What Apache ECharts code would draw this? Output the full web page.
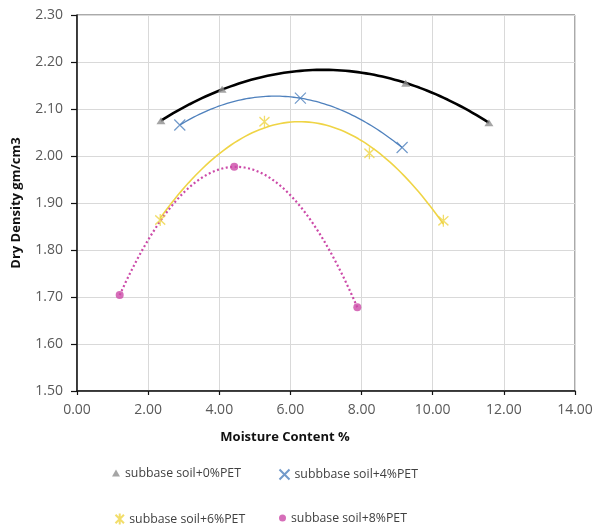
<!DOCTYPE html>
<html>
<head>
<meta charset="utf-8">
<script src="https://cdn.jsdelivr.net/npm/echarts@6/dist/echarts.min.js"></script>
<style>html,body{margin:0;padding:0;background:#fff}#c{width:597px;height:527px}</style>
</head>
<body>
<div id="c"></div>
<script>
// ---- data ----
const seriesNames = ['subbase soil+0%PET', 'subbbase soil+4%PET', 'subbase soil+6%PET', 'subbase soil+8%PET'];
const moisture0 = [2.36, 4.08, 9.24, 11.58];
const density0  = [2.075, 2.142, 2.155, 2.071];
const moisture4 = [2.89, 6.28, 9.14];
const density4  = [2.066, 2.123, 2.018];
const moisture6 = [2.34, 5.27, 8.22, 10.30];
const density6  = [1.864, 2.073, 2.006, 1.862];
const moisture8 = [1.20, 4.42, 7.88];
const density8  = [1.704, 1.977, 1.678];
const xTicks = [0, 2, 4, 6, 8, 10, 12, 14];
const yTicks = [1.5, 1.6, 1.7, 1.8, 1.9, 2.0, 2.1, 2.2, 2.3];

// ---- 2nd order polynomial trendline (least squares), like the spreadsheet trendline ----
function polyFit2(xs, ys) {
  let n = xs.length, s1=0,s2=0,s3=0,s4=0,t0=0,t1=0,t2=0;
  for (let i=0;i<n;i++){const x=xs[i],y=ys[i];s1+=x;s2+=x*x;s3+=x*x*x;s4+=x*x*x*x;t0+=y;t1+=x*y;t2+=x*x*y;}
  const A=[[n,s1,s2,t0],[s1,s2,s3,t1],[s2,s3,s4,t2]];
  for (let i=0;i<3;i++){
    let p=i;for(let r=i+1;r<3;r++) if(Math.abs(A[r][i])>Math.abs(A[p][i])) p=r;
    [A[i],A[p]]=[A[p],A[i]];
    for(let r=0;r<3;r++){ if(r===i) continue; const f=A[r][i]/A[i][i]; for(let c=i;c<4;c++) A[r][c]-=f*A[i][c]; }
  }
  return [A[0][3]/A[0][0], A[1][3]/A[1][1], A[2][3]/A[2][2]];
}
function trend(xs, ys) {
  const c = polyFit2(xs, ys);
  const lo = Math.min(...xs), hi = Math.max(...xs), out = [];
  const N = 80;
  for (let i=0;i<=N;i++){ const x = lo + (hi-lo)*i/N; out.push([x, c[0]+c[1]*x+c[2]*x*x]); }
  return out;
}
const zip = (a,b) => a.map((v,i)=>[v,b[i]]);

const xPath = 'path://M0,0L10,10M10,0L0,10';
const starPath = 'path://M0,0L10,10M10,0L0,10M5,-1.5L5,11.5';

const colGray = '#8e8e8e', colBlue = '#4f81bd', colYellow = '#efd445', colPink = '#cc4aa8';

const chart = echarts.init(document.getElementById('c'), null, {renderer:'canvas'});
const legendText = {color:'#404040', fontSize:12.3, fontFamily:'Open Sans'};
const lg = {padding:0, selectedMode:false, textStyle:legendText};
chart.setOption({
  animation:false,
  backgroundColor:'#fff',
  grid:{left:77, right:22, top:15, bottom:136, show:true, borderColor:'#555', borderWidth:1},
  xAxis:{
    type:'value', min:xTicks[0], max:xTicks[xTicks.length-1], interval:xTicks[1]-xTicks[0],
    name:'Moisture Content %', nameLocation:'middle', nameGap:40,
    nameTextStyle:{color:'#111', fontWeight:'bold', fontSize:13, fontFamily:'Open Sans', padding:[0,82,0,0]},
    axisLine:{lineStyle:{color:'#111', width:1.5}},
    axisTick:{show:true, length:4, lineStyle:{color:'#111', width:1.2}},
    axisLabel:{color:'#595959', fontSize:14, fontFamily:'Open Sans', margin:12, formatter:v=>v.toFixed(2)},
    splitLine:{show:true, lineStyle:{color:'#d9d9d9', width:1}}
  },
  yAxis:{
    type:'value', min:yTicks[0], max:yTicks[yTicks.length-1], interval:0.1,
    name:'Dry Density gm/cm3', nameLocation:'middle', nameGap:54, nameRotate:90,
    nameTextStyle:{color:'#111', fontWeight:'bold', fontSize:13, fontFamily:'Open Sans'},
    axisLine:{show:true, lineStyle:{color:'#111', width:1.5}},
    axisTick:{show:true, length:6, lineStyle:{color:'#111', width:1.2}},
    axisLabel:{color:'#595959', fontSize:14, fontFamily:'Open Sans', margin:14, formatter:v=>v.toFixed(2)},
    splitLine:{show:true, lineStyle:{color:'#d9d9d9', width:1}}
  },
  legend:[
    Object.assign({data:[{name:seriesNames[0], icon:'triangle'}], left:112, top:467, itemWidth:8, itemHeight:7}, lg),
    Object.assign({data:[{name:seriesNames[1], icon:xPath}], left:277, top:467, itemWidth:10, itemHeight:10}, lg),
    Object.assign({data:[{name:seriesNames[2], icon:starPath}], left:113, top:511, itemWidth:9, itemHeight:11}, lg),
    Object.assign({data:[{name:seriesNames[3], icon:'circle'}], left:279, top:512, itemWidth:7, itemHeight:7}, lg)
  ],
  series:[
    {name:'trend0', type:'line', data:trend(moisture0,density0), showSymbol:false, symbol:'none', lineStyle:{color:'#000', width:2.6}, z:3},
    {name:'trend4', type:'line', data:trend(moisture4,density4), showSymbol:false, symbol:'none', lineStyle:{color:colBlue, width:1.3}, z:3},
    {name:'trend6', type:'line', data:trend(moisture6,density6), showSymbol:false, symbol:'none', lineStyle:{color:colYellow, width:1.6}, z:3},
    {name:'trend8', type:'line', data:trend(moisture8,density8), showSymbol:false, symbol:'none', lineStyle:{color:colPink, width:2.2, type:[2,2.5]}, z:3},
    {name:seriesNames[0], type:'scatter', data:zip(moisture0,density0), symbol:'triangle', symbolSize:[9,7], itemStyle:{color:colGray}, z:4},
    {name:seriesNames[1], type:'scatter', data:zip(moisture4,density4), symbol:xPath, symbolSize:11, itemStyle:{color:'none', borderColor:colBlue, borderWidth:1.2}, z:4},
    {name:seriesNames[2], type:'scatter', data:zip(moisture6,density6), symbol:starPath, symbolSize:[10,12], itemStyle:{color:'none', borderColor:colYellow, borderWidth:1.4}, z:4},
    {name:seriesNames[3], type:'scatter', data:zip(moisture8,density8), symbol:'circle', symbolSize:8, itemStyle:{color:colPink}, z:4}
  ]
});
</script>
</body>
</html>
